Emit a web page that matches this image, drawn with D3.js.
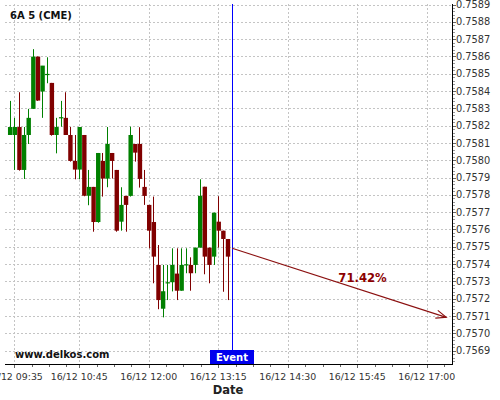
<!DOCTYPE html>
<html><head><meta charset="utf-8">
<script src="https://cdn.jsdelivr.net/npm/d3@7/dist/d3.min.js"></script>
<style>body{margin:0;background:#fff}svg{display:block}text{font-family:"DejaVu Sans",sans-serif}</style>
</head><body>
<script>
const title = "6A 5 (CME)";
const times = ["09:30","09:35","09:40","09:45","09:50","09:55","10:00","10:05","10:10","10:15","10:20","10:25",
"10:30","10:35","10:40","10:45","10:50","10:55","11:00","11:05","11:10","11:15","11:20","11:25",
"11:30","11:35","11:40","11:45","11:50","11:55","12:00","12:05","12:10","12:15","12:20","12:25",
"12:30","12:35","12:40","12:45","12:50","12:55","13:00","13:05","13:10","13:15","13:20","13:25"];
const open  = [0.758146,0.758146,0.758192,0.757944,0.758146,0.758297,0.758599,0.758397,0.758499,0.758447,0.758146,0.758249,
0.758245,0.758146,0.757996,0.757946,0.758146,0.757795,0.757846,0.757643,0.757996,0.757894,0.758042,0.757944,
0.757645,0.757794,0.757794,0.758094,0.758094,0.757846,0.757742,0.757643,0.757395,0.757142,0.757295,0.757295,
0.757345,0.757246,0.757399,0.757395,0.757395,0.757495,0.757847,0.757495,0.757443,0.757645,0.757593,0.757545];
const high  = [0.758343,0.758245,0.758393,0.758192,0.758297,0.758642,0.758599,0.758545,0.758595,0.758447,0.758245,0.758343,
0.758393,0.758192,0.758146,0.758192,0.758146,0.757944,0.757846,0.758042,0.758042,0.758192,0.758042,0.757944,
0.757844,0.757794,0.758194,0.758094,0.758191,0.757944,0.757742,0.757790,0.757510,0.757395,0.757395,0.757491,
0.757491,0.757491,0.757491,0.757439,0.757495,0.757890,0.757847,0.757495,0.757697,0.757792,0.757593,0.757545];
const low   = [0.758146,0.757944,0.757940,0.757892,0.758094,0.758297,0.758343,0.758245,0.758445,0.758142,0.758040,0.758194,
0.758146,0.757992,0.757890,0.757890,0.757792,0.757740,0.757587,0.757639,0.757790,0.757844,0.757894,0.757587,
0.757593,0.757587,0.757790,0.757992,0.757842,0.757742,0.757491,0.757289,0.757139,0.757092,0.757192,0.757242,
0.757192,0.757246,0.757347,0.757246,0.757347,0.757495,0.757341,0.757289,0.757395,0.757495,0.757240,0.757192];
const close = [0.758192,0.758192,0.757944,0.758146,0.758245,0.758599,0.758345,0.758547,0.758499,0.758146,0.758192,0.758249,
0.758146,0.757996,0.757946,0.758192,0.757795,0.757846,0.757643,0.758042,0.757894,0.758094,0.757996,0.757593,
0.757742,0.757742,0.758146,0.758044,0.757892,0.757794,0.757593,0.757443,0.757192,0.757243,0.757295,0.757395,
0.757246,0.757395,0.757399,0.757347,0.757495,0.757794,0.757443,0.757395,0.757697,0.757593,0.757545,0.757443];
const xTickTimes = ["09:35","10:45","12:00","13:15","14:30","15:45","17:00"];
const xTickLabels = ["16/12 09:35","16/12 10:45","16/12 12:00","16/12 13:15","16/12 14:30","16/12 15:45","16/12 17:00"];
const yTicks = [0.7569,0.7570,0.7571,0.7572,0.7573,0.7574,0.7575,0.7576,0.7577,0.7578,0.7579,0.7580,0.7581,0.7582,0.7583,0.7584,0.7585,0.7586,0.7587,0.7588,0.7589];
const eventTime = "13:30";
const arrowStart = {t:"13:30", v:0.757491};
const arrowEnd = {t:"17:21", v:0.757092};
const arrowLabel = "71.42%";
const watermark = "www.delkos.com";
const xTitle = "Date";

const W=500,H=400, L=5, R=452, T=4, B=364;
const tm = s => { const [h,m]=s.split(":").map(Number); return new Date(Date.UTC(2016,11,16,h,m)); };
const x = d3.scaleUtc().domain([new Date(Date.UTC(2016,11,16,9,24,58)), new Date(Date.UTC(2016,11,16,17,27,11))]).range([L,R]);
const y = d3.scaleLinear().domain([0.7568225,0.758903]).range([B,T]);

const svg = d3.select("body").append("svg").attr("width",W).attr("height",H);
const clip = svg.append("defs").append("clipPath").attr("id","pc").append("rect").attr("x",L).attr("y",T).attr("width",R-L).attr("height",B-T);

// grid
const g = svg.append("g").attr("shape-rendering","crispEdges");
g.selectAll(".hg").data(yTicks).join("line").attr("x1",L).attr("x2",R)
 .attr("y1",d=>Math.round(y(d))+0.5).attr("y2",d=>Math.round(y(d))+0.5)
 .attr("stroke","#c4c4c4").attr("stroke-dasharray","2,2");
g.selectAll(".vg").data(xTickTimes).join("line").attr("y1",T).attr("y2",B)
 .attr("x1",d=>Math.round(x(tm(d)))+0.5).attr("x2",d=>Math.round(x(tm(d)))+0.5)
 .attr("stroke","#c4c4c4").attr("stroke-dasharray","2,2");

// candles
const data = times.map((t,i)=>({t:tm(t),o:open[i],h:high[i],l:low[i],c:close[i]}));
const bw = 4.4;
const cg = svg.append("g").attr("clip-path","url(#pc)");
const col = d => d.c>=d.o ? "#008000" : "#800000";
cg.selectAll(".wick").data(data).join("line")
 .attr("x1",d=>Math.round(x(d.t))+0.5).attr("x2",d=>Math.round(x(d.t))+0.5)
 .attr("y1",d=>y(d.h)).attr("y2",d=>y(d.l)).attr("stroke",col).attr("stroke-width",1);
cg.selectAll(".body").data(data).join("rect")
 .attr("x",d=>x(d.t)-bw/2+0.5).attr("width",bw)
 .attr("y",d=>y(Math.max(d.o,d.c))).attr("height",d=>Math.max(1.2,Math.abs(y(d.o)-y(d.c))))
 .attr("fill",col);

// event line
const ex = Math.round(x(tm(eventTime)))+0.5;
svg.append("line").attr("x1",ex).attr("x2",ex).attr("y1",T).attr("y2",B).attr("stroke","#0000ff").attr("stroke-width",1);

// arrow
const ax1=x(tm(arrowStart.t)), ay1=y(arrowStart.v), ax2=x(tm(arrowEnd.t)), ay2=y(arrowEnd.v);
const ang=Math.atan2(ay2-ay1,ax2-ax1), hl=11, ha=0.38;
const ag = svg.append("g").attr("stroke","#8b1010").attr("stroke-width",1.1).attr("fill","none");
ag.append("line").attr("x1",ax1).attr("y1",ay1).attr("x2",ax2).attr("y2",ay2);
ag.append("path").attr("d",`M${ax2-hl*Math.cos(ang-ha)},${ay2-hl*Math.sin(ang-ha)}L${ax2},${ay2}L${ax2-hl*Math.cos(ang+ha)},${ay2-hl*Math.sin(ang+ha)}`);
svg.append("text").attr("x",362.5).attr("y",281.5).attr("text-anchor","middle")
 .attr("font-size","11.6px").attr("font-weight","bold").attr("fill","#8b0000").text(arrowLabel);

// axes
const ax = svg.append("g").attr("shape-rendering","crispEdges");
ax.append("line").attr("x1",L).attr("x2",R+0.5).attr("y1",B+0.5).attr("y2",B+0.5).attr("stroke","#000");
ax.append("line").attr("x1",R+0.5).attr("x2",R+0.5).attr("y1",T).attr("y2",B+0.5).attr("stroke","#000");
// x ticks
const minorX = [];
xTickTimes.forEach((s,i)=>{ const t0=tm(s).getTime(); const t1 = i<xTickTimes.length-1 ? tm(xTickTimes[i+1]).getTime() : t0+75*60000;
  for(let k=1;k<4;k++){ minorX.push(new Date(t0+k*18.75*60000)); } });
ax.selectAll(".mx").data(minorX.filter(d=>x(d)<R)).join("line").attr("x1",d=>Math.round(x(d))+0.5).attr("x2",d=>Math.round(x(d))+0.5)
 .attr("y1",B+1).attr("y2",B+3).attr("stroke","#666");
ax.selectAll(".tx").data(xTickTimes).join("line").attr("x1",d=>Math.round(x(tm(d)))+0.5).attr("x2",d=>Math.round(x(tm(d)))+0.5)
 .attr("y1",B+1).attr("y2",B+4).attr("stroke","#666");
svg.selectAll(".xl").data(xTickTimes).join("text").attr("x",d=>x(tm(d))).attr("y",380)
 .attr("text-anchor","middle").attr("font-size","9.4px").attr("fill","#333").text((d,i)=>xTickLabels[i]);
// y ticks
ax.selectAll(".ty").data(yTicks).join("line").attr("x1",R+1).attr("x2",R+4)
 .attr("y1",d=>Math.round(y(d))+0.5).attr("y2",d=>Math.round(y(d))+0.5).attr("stroke","#666");
const minorY=[]; yTicks.forEach(v=>{ for(let k=1;k<5;k++){ const m=v-k*0.00002; if(y(m)<B) minorY.push(m);} });
ax.selectAll(".my").data(minorY).join("line").attr("x1",R+1).attr("x2",R+3)
 .attr("y1",d=>Math.round(y(d))+0.5).attr("y2",d=>Math.round(y(d))+0.5).attr("stroke","#999");
svg.selectAll(".yl").data(yTicks).join("text").attr("x",456).attr("y",d=>y(d)+3.6)
 .attr("font-size","9.8px").attr("fill","#333").text(d=>d.toFixed(4));

// labels
svg.append("text").attr("x",10).attr("y",19).attr("font-size","10px").attr("font-weight","bold").attr("fill","#111").text(title);
svg.append("text").attr("x",15).attr("y",357.5).attr("font-size","10px").attr("font-weight","bold").attr("fill","#111").text(watermark);
svg.append("rect").attr("x",210).attr("y",350).attr("width",44).attr("height",14).attr("fill","#0000ee");
svg.append("text").attr("x",232).attr("y",361).attr("text-anchor","middle").attr("font-size","10px").attr("font-weight","bold").attr("fill","#fff").text("Event");
svg.append("text").attr("x",228).attr("y",394).attr("text-anchor","middle").attr("font-size","11.5px").attr("font-weight","bold").attr("fill","#222").text(xTitle);
</script>
</body></html>
